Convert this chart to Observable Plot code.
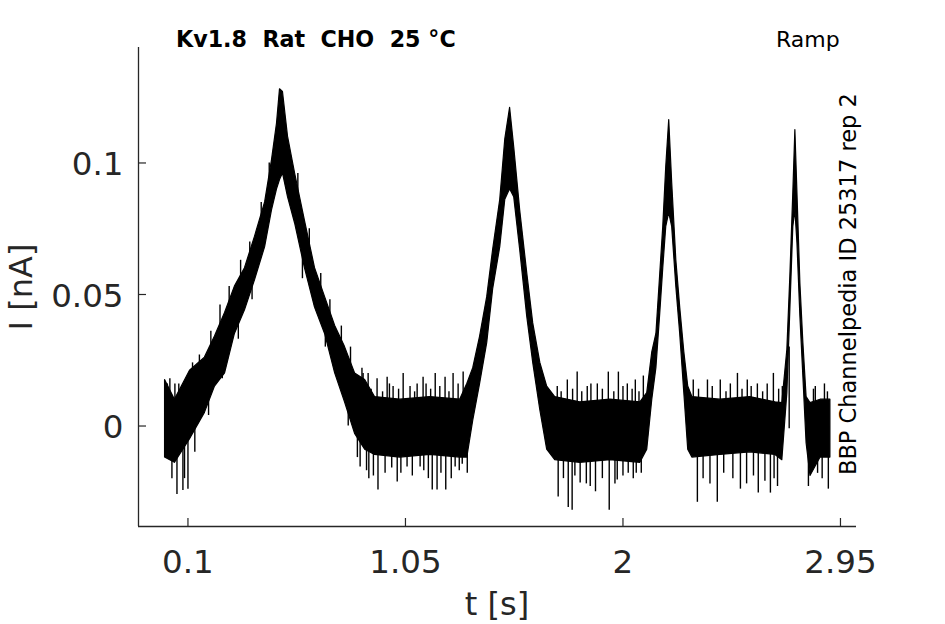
<!DOCTYPE html>
<html><head><meta charset="utf-8">
<script src="https://cdn.jsdelivr.net/npm/d3@7"></script>
<script src="https://cdn.jsdelivr.net/npm/@observablehq/plot@0.6"></script>
<style>
body{margin:0;background:#fff}
#chart{position:relative;width:945px;height:624px}
</style>
</head><body><div id="chart"></div>
<script>
// Time points (s) and the upper / lower edge of the dense recorded current band (nA)
const tVals = [0.000,0.043,0.109,0.174,0.218,0.262,0.305,0.349,0.393,0.437,0.467,0.489,0.502,0.515,0.537,0.568,0.611,0.655,0.699,0.743,0.786,0.830,0.874,0.917,1.027,1.158,1.289,1.320,1.346,1.376,1.407,1.433,1.464,1.486,1.507,1.525,1.551,1.582,1.608,1.639,1.669,1.704,1.813,1.945,2.076,2.106,2.128,2.146,2.163,2.176,2.189,2.202,2.215,2.233,2.250,2.268,2.285,2.303,2.425,2.556,2.666,2.696,2.718,2.731,2.744,2.753,2.762,2.775,2.788,2.802,2.819,2.863,2.906];
const iHigh = [0.0175,0.010,0.021,0.026,0.034,0.043,0.053,0.060,0.072,0.085,0.101,0.115,0.128,0.127,0.110,0.096,0.078,0.060,0.049,0.038,0.030,0.020,0.0175,0.011,0.010,0.011,0.010,0.016,0.022,0.034,0.049,0.067,0.086,0.109,0.121,0.106,0.082,0.058,0.039,0.024,0.015,0.011,0.009,0.010,0.009,0.0125,0.028,0.035,0.058,0.0757,0.0985,0.1163,0.0924,0.063,0.045,0.028,0.015,0.011,0.010,0.011,0.009,0.0087,0.029,0.0567,0.0886,0.1125,0.0886,0.054,0.0315,0.011,0.0087,0.010,0.010];
const iLow = [-0.012,-0.014,-0.005,0.005,0.015,0.020,0.035,0.044,0.0555,0.068,0.082,0.090,0.0935,0.096,0.087,0.077,0.060,0.045,0.035,0.020,0.009,-0.003,-0.009,-0.011,-0.012,-0.011,-0.012,-0.012,0.002,0.016,0.0315,0.052,0.068,0.086,0.090,0.087,0.067,0.0415,0.024,0.006,-0.009,-0.013,-0.014,-0.013,-0.014,-0.009,0.010,0.022,0.043,0.060,0.0757,0.081,0.0757,0.053,0.035,0.0125,-0.009,-0.012,-0.011,-0.010,-0.011,-0.013,0.0125,0.044,0.0757,0.082,0.0696,0.0415,0.0186,-0.0065,-0.019,-0.012,-0.012];

// Noise spikes sticking out of the band: time (s), start of spike (nA), tip of spike (nA)
const spikeT = [
  0.021,0.043,0.052,0.078,0.100,0.010,0.030,0.060,0.085,0.120,
  0.865,0.887,0.926,0.970,0.996,1.040,1.101,1.127,1.180,1.223,1.258,1.302,1.333,
  0.852,0.930,0.961,1.014,1.057,1.114,1.167,1.188,1.226,1.267,1.298,
  0.900,0.950,0.980,1.020,1.070,1.090,1.140,1.160,1.200,1.240,1.280,1.310,
  0.880,0.910,0.990,1.030,1.080,1.130,1.150,1.205,1.250,1.285,1.320,
  1.713,1.757,1.800,1.844,1.888,1.936,1.980,2.019,2.054,2.089,
  1.717,1.761,1.778,1.813,1.857,1.940,1.975,2.023,2.058,
  1.730,1.780,1.820,1.860,1.910,1.960,2.000,2.040,2.070,
  1.740,1.790,1.840,1.880,1.910,1.965,2.000,2.045,2.080,
  2.307,2.369,2.425,2.469,2.500,2.543,2.587,2.657,2.696,
  2.325,2.412,2.513,2.591,2.644,2.675,
  2.330,2.390,2.450,2.520,2.560,2.610,2.630,2.680,
  2.350,2.380,2.440,2.480,2.540,2.570,2.620,2.660,
  2.832,2.893,2.810,2.850,2.897,2.726,2.840,2.870,2.880,
  0.150,0.200,0.240,0.280,0.330,0.370,0.420,0.455,
  0.130,0.190,0.250,0.320,0.380,
  0.580,0.630,0.680,0.720,0.770,0.810,0.860,
  0.600,0.700,0.800,0.840,0.890];
const spikeBase = [
  0,0,0,0,0,0,0,0,0,0.005,
  0,0,0,0,0,0,0,0,0,0,0,0,0,
  0,0,0,0,0,0,0,0,0,0,0,
  0,0,0,0,0,0,0,0,0,0,0,0,
  0,0,0,0,0,0,0,0,0,0,0,
  0,0,0,0,0,0,0,0,0,0,
  0,0,0,0,0,0,0,0,0,
  0,0,0,0,0,0,0,0,0,
  0,0,0,0,0,0,0,0,0,
  0,0,0,0,0,0,0,0,0,
  0,0,0,0,0,0,
  0,0,0,0,0,0,0,0,
  0,0,0,0,0,0,0,0,
  0,0,0,0,0,0.030,0,0,0,
  0.010,0.020,0.030,0.040,0.050,0.060,0.070,0.080,
  0.010,0.015,0.030,0.045,0.060,
  0.085,0.065,0.050,0.040,0.030,0.020,0.010,
  0.070,0.040,0.015,0.005,0];
const spikeEnd = [
  0.018,0.016,-0.026,-0.0245,-0.024,0.016,-0.020,0.016,-0.020,0.024,
  0.020,0.020,0.018,0.0185,0.015,0.020,0.016,0.0185,0.020,0.0185,0.020,0.0205,0.0185,
  -0.0156,-0.0243,-0.018,-0.0213,-0.0156,-0.0156,-0.0243,-0.0243,-0.0243,-0.0156,-0.0145,
  0.014,0.013,0.016,0.014,0.015,0.013,0.016,0.014,0.015,0.013,0.016,0.014,
  -0.017,-0.019,-0.016,-0.018,-0.019,-0.017,-0.020,-0.018,-0.020,-0.017,-0.018,
  0.015,0.0175,0.0205,0.015,0.016,0.0205,0.0205,0.016,0.0175,0.019,
  -0.027,-0.031,-0.032,-0.0217,-0.023,-0.032,-0.0205,-0.018,-0.018,
  0.013,0.014,0.013,0.016,0.014,0.013,0.015,0.014,0.013,
  -0.020,-0.019,-0.022,-0.025,-0.020,-0.022,-0.019,-0.020,-0.018,
  0.0175,0.0175,0.0175,0.016,0.020,0.0175,0.016,0.020,0.015,
  -0.029,-0.029,-0.024,-0.0255,-0.0255,-0.023,
  0.014,0.015,0.013,0.014,0.015,0.013,0.016,0.014,
  -0.020,-0.022,-0.018,-0.020,-0.022,-0.019,-0.021,-0.020,
  0.014,0.013,-0.023,-0.018,-0.024,-0.001,0.015,-0.020,0.016,
  0.027,0.036,0.046,0.053,0.063,0.070,0.085,0.100,
  -0.010,0.004,0.018,0.033,0.048,
  0.096,0.075,0.058,0.048,0.038,0.030,0.022,
  0.056,0.030,0.000,-0.012,-0.020];

const xTicks = [0.1, 1.05, 2, 2.95];
const xTickLabels = ["0.1", "1.05", "2", "2.95"];
const yTicks = [0, 0.05, 0.1];
const yTickLabels = ["0", "0.05", "0.1"];
const xDomain = [-0.116, 3.02];
const yDomain = [-0.0382, 0.1439];

const band = tVals.map((t, k) => ({t, hi: iHigh[k], lo: iLow[k]}));
const spikes = spikeT.map((t, k) => ({t, base: spikeBase[k], end: spikeEnd[k]}));

const axisColor = "#262626";
const font = "'DejaVu Sans', sans-serif";

const plot = Plot.plot({
  width: 945, height: 624,
  marginLeft: 138, marginRight: 89, marginTop: 47, marginBottom: 98,
  style: {fontFamily: font, background: "white", overflow: "visible", color: axisColor},
  x: {domain: xDomain, label: null},
  y: {domain: yDomain, label: null},
  marks: [
    Plot.areaY(band, {x: "t", y1: "lo", y2: "hi", fill: "black", stroke: "black", strokeWidth: 1.2, curve: "linear"}),
    Plot.ruleX(spikes, {x: "t", y1: "base", y2: "end", stroke: "black", strokeWidth: 1.4}),
    Plot.ruleY([yDomain[0]], {stroke: axisColor, strokeWidth: 1.3}),
    Plot.ruleX([xDomain[0]], {stroke: axisColor, strokeWidth: 1.3}),
    Plot.axisX(xTicks, {anchor: "bottom", tickSize: 8, dy: -8, tickFormat: () => "", stroke: axisColor, strokeWidth: 1.2, label: null}),
    Plot.axisX(xTicks, {anchor: "bottom", tickSize: 0, tickPadding: 23, fontSize: 32.5, fill: axisColor,
      tickFormat: d => xTickLabels[xTicks.indexOf(d)], label: null}),
    Plot.axisY(yTicks, {anchor: "left", tickSize: 8, dx: 8, tickFormat: () => "", stroke: axisColor, strokeWidth: 1.2, label: null}),
    Plot.axisY(yTicks, {anchor: "left", tickSize: 0, tickPadding: 15, dy: 2, fontSize: 32.5, fill: axisColor,
      tickFormat: d => yTickLabels[yTicks.indexOf(d)], label: null})
  ]
});

document.getElementById("chart").appendChild(plot);
const svg = d3.select(plot);

svg.append("text")
  .attr("x", 176).attr("y", 47).attr("text-anchor", "start")
  .style("white-space", "pre")
  .attr("font-family", font).attr("font-size", 22.2).attr("font-weight", "bold").attr("fill", "black")
  .text("Kv1.8  Rat  CHO  25 °C");

svg.append("text")
  .attr("x", 776).attr("y", 47).attr("text-anchor", "start")
  .attr("font-family", font).attr("font-size", 22).attr("fill", "black")
  .text("Ramp");

svg.append("text")
  .attr("transform", "translate(856,475) rotate(-90)").attr("text-anchor", "start")
  .attr("font-family", font).attr("font-size", 22.5).attr("fill", "black")
  .text("BBP Channelpedia ID 25317 rep 2");

svg.append("text")
  .attr("x", 497).attr("y", 615).attr("text-anchor", "middle")
  .attr("font-family", font).attr("font-size", 32).attr("fill", axisColor)
  .text("t [s]");

svg.append("text")
  .attr("transform", "translate(32,287) rotate(-90)").attr("text-anchor", "middle")
  .attr("font-family", font).attr("font-size", 32).attr("fill", axisColor)
  .text("I [nA]");
</script>
</body></html>
